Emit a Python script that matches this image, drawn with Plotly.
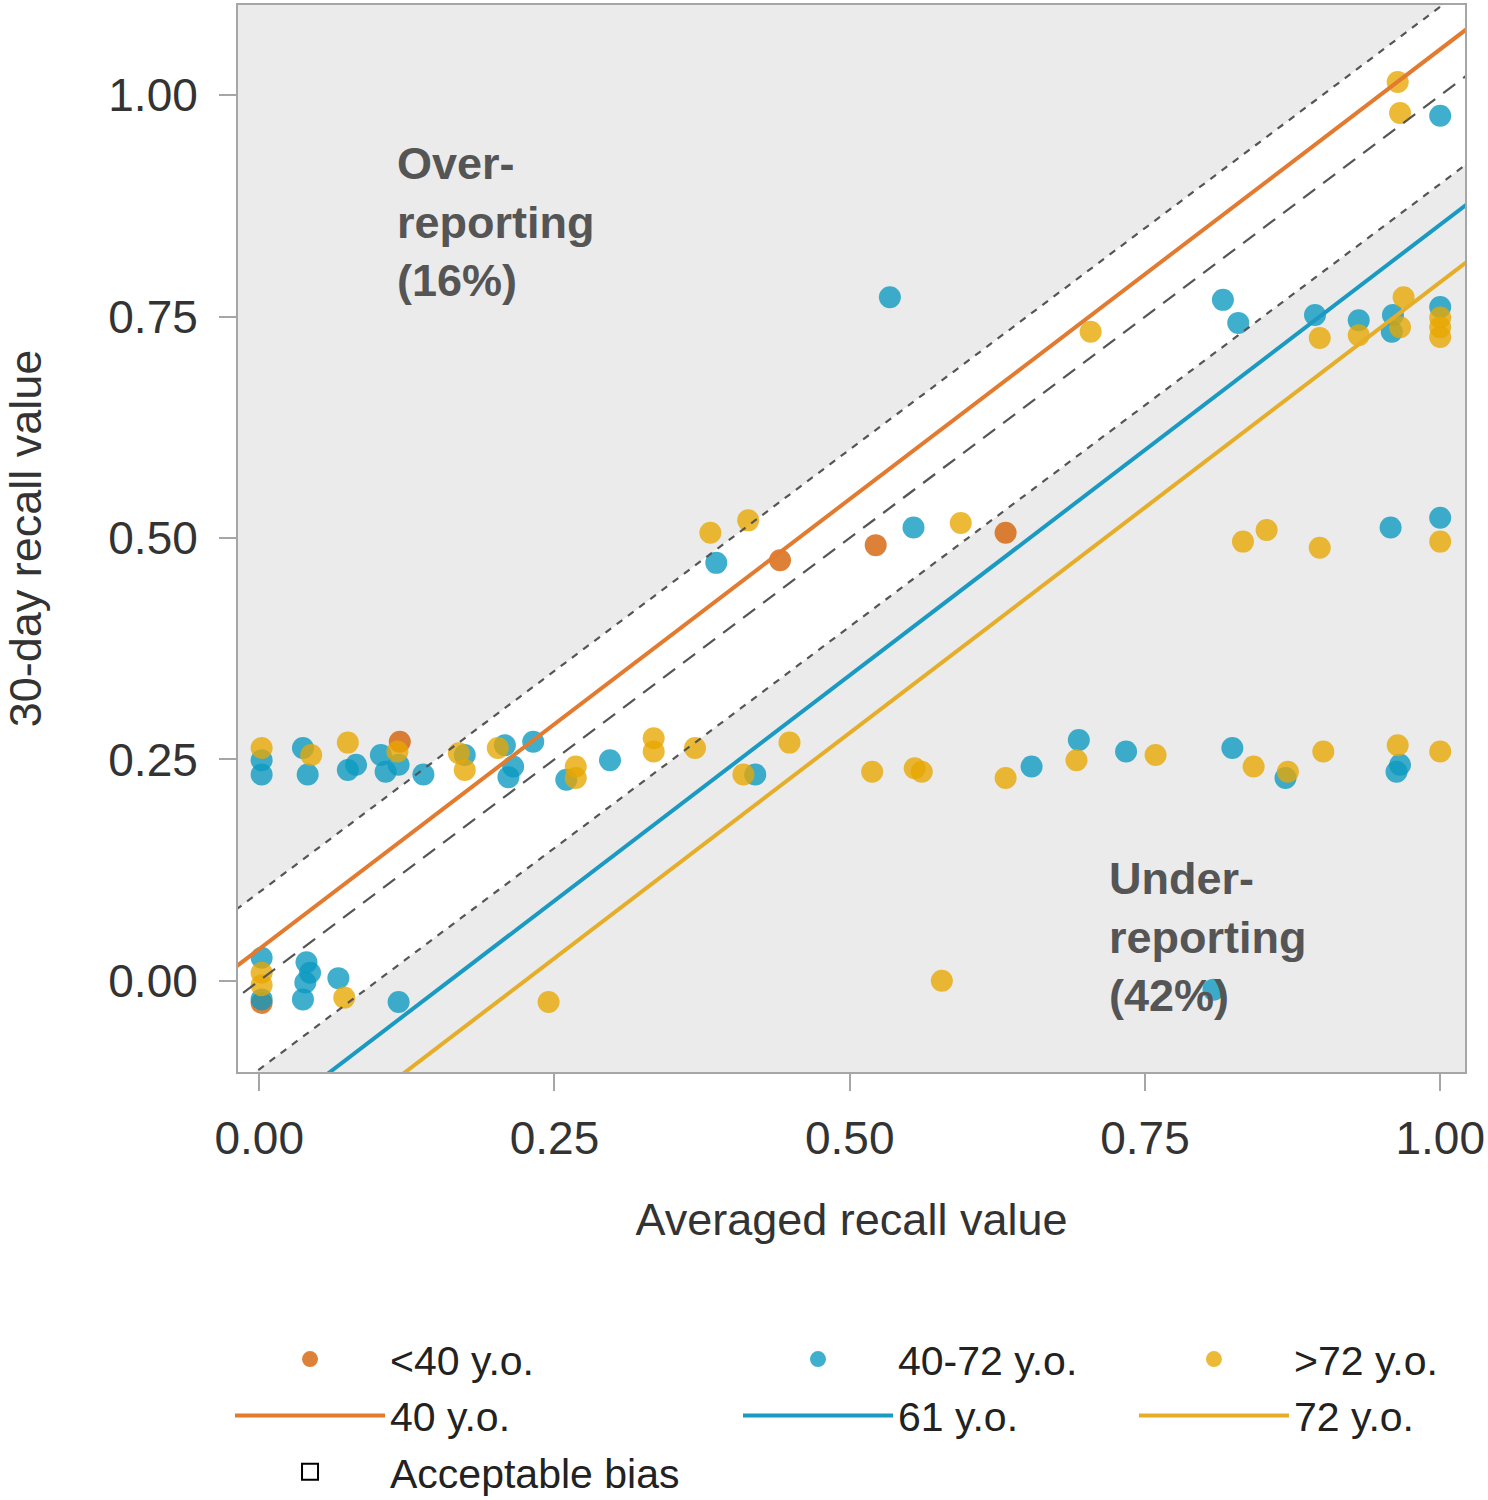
import plotly.graph_objects as go

# ---- data ----
x_lt40 = [0.119, 0.441, 0.522, 0.632, 0.002]
y_lt40 = [0.270, 0.475, 0.492, 0.506, -0.025]

x_mid = [0.002, 0.002, 0.037, 0.041, 0.075, 0.082, 0.103, 0.107, 0.118, 0.139,
         0.174, 0.208, 0.215, 0.211, 0.232, 0.260, 0.297, 0.420, 0.654, 0.694,
         0.734, 0.824, 0.869, 0.963, 0.966,
         0.002, 0.002, 0.040, 0.043, 0.039, 0.037, 0.067, 0.118,
         1.000, 0.816, 0.829, 0.894, 0.931, 0.960, 0.959, 1.000,
         0.534, 0.554, 0.387, 0.958, 1.000, 0.808]
y_mid = [0.249, 0.233, 0.263, 0.233, 0.238, 0.244, 0.255, 0.236, 0.244, 0.233,
         0.255, 0.266, 0.242, 0.230, 0.270, 0.227, 0.249, 0.233, 0.242, 0.272,
         0.259, 0.263, 0.229, 0.236, 0.244,
         0.026, -0.021, 0.021, 0.009, -0.002, -0.021, 0.003, -0.024,
         0.977, 0.769, 0.743, 0.752, 0.746, 0.752, 0.733, 0.761,
         0.772, 0.512, 0.472, 0.512, 0.523, -0.010]

x_gt72 = [0.002, 0.044, 0.075, 0.117, 0.169, 0.174, 0.202, 0.268, 0.268,
          0.334, 0.334, 0.369, 0.410, 0.449, 0.519, 0.555, 0.561, 0.632,
          0.692, 0.759, 0.842, 0.871, 0.901, 0.964, 1.000,
          0.002, 0.002, 0.072, 0.245, 0.578,
          0.964, 0.966, 0.704, 0.898, 0.931, 0.969, 0.966, 1.000, 1.000, 1.000,
          0.382, 0.414, 0.594,
          0.833, 0.853, 0.898, 1.000]
y_gt72 = [0.263, 0.255, 0.269, 0.259, 0.257, 0.238, 0.263, 0.242, 0.229,
          0.274, 0.259, 0.263, 0.233, 0.269, 0.236, 0.240, 0.236, 0.229,
          0.249, 0.255, 0.242, 0.236, 0.259, 0.266, 0.259,
          0.009, -0.005, -0.019, -0.024, 0.000,
          1.015, 0.980, 0.733, 0.726, 0.729, 0.772, 0.738, 0.749, 0.738, 0.727,
          0.506, 0.520, 0.517,
          0.496, 0.509, 0.489, 0.496]

# fitted lines: (label, intercept, slope)
fit_labels = ["40 y.o.", "61 y.o.", "72 y.o."]
fit_intercepts = [0.036, -0.164, -0.229]
fit_slopes = [1.016, 1.018, 1.018]

bias_halfwidth = 0.1
x_tick_vals = [0.0, 0.25, 0.5, 0.75, 1.0]
x_tick_text = ["0.00", "0.25", "0.50", "0.75", "1.00"]
y_tick_vals = [0.0, 0.25, 0.5, 0.75, 1.0]
y_tick_text = ["0.00", "0.25", "0.50", "0.75", "1.00"]

# ---- styles ----
pt_colors = ["#D55E00", "#0A98C0", "#E8A600"]
line_colors = ["#E27A30", "#1A9AC2", "#E6AE28"]
legends = ["legend", "legend2", "legend3"]
FONT = "Liberation Sans, Arial, sans-serif"

fig = go.Figure()

xs = [-0.2, 1.2]
# acceptable bias band (white)
fig.add_trace(go.Scatter(x=xs, y=[v - bias_halfwidth for v in xs], mode="lines",
                         line=dict(width=0, color="rgba(0,0,0,0)"), showlegend=False,
                         hoverinfo="skip"))
fig.add_trace(go.Scatter(x=xs, y=[v + bias_halfwidth for v in xs], mode="lines",
                         line=dict(width=0, color="rgba(0,0,0,0)"), fill="tonexty",
                         fillcolor="white", showlegend=False, hoverinfo="skip"))

# points
for name, xv, yv, c, lg in [("<40 y.o.", x_lt40, y_lt40, pt_colors[0], legends[0]),
                            ("40-72 y.o.", x_mid, y_mid, pt_colors[1], legends[1]),
                            (">72 y.o.", x_gt72, y_gt72, pt_colors[2], legends[2])]:
    fig.add_trace(go.Scatter(x=xv, y=yv, mode="markers", name=name, legend=lg,
                             marker=dict(color=c, size=22, opacity=0.78, line=dict(width=0))))

# band borders and identity line
for off, dash in [(bias_halfwidth, "7px,7px"), (-bias_halfwidth, "7px,7px"), (0, "15px,10px")]:
    fig.add_trace(go.Scatter(x=xs, y=[v + off for v in xs], mode="lines",
                             line=dict(color="#555555", width=2.2, dash=dash),
                             showlegend=False, hoverinfo="skip"))

# fitted lines
for lab, b0, b1, c, lg in zip(fit_labels, fit_intercepts, fit_slopes, line_colors, legends):
    fig.add_trace(go.Scatter(x=xs, y=[b0 + b1 * v for v in xs], mode="lines", name=lab,
                             legend=lg, line=dict(color=c, width=4)))

# acceptable bias legend entry
fig.add_trace(go.Scatter(x=[None], y=[None], mode="markers", name="Acceptable bias",
                         legend="legend",
                         marker=dict(symbol="square-open", color="black", size=16,
                                     line=dict(width=2))))

ann_font = dict(family=FONT, size=45, color="#555555")
fig.add_annotation(x=0.115, y=0.857, xref="x", yref="y", xanchor="left", yanchor="middle",
                   align="left", showarrow=False,
                   text="<b>Over-<br>reporting<br>(16%)</b>", font=ann_font)
fig.add_annotation(x=0.718, y=0.050, xref="x", yref="y", xanchor="left", yanchor="middle",
                   align="left", showarrow=False,
                   text="<b>Under-<br>reporting<br>(42%)</b>", font=ann_font)

axis_common = dict(showgrid=False, zeroline=False, showline=True, mirror=True,
                   linecolor="#A6A6A6", linewidth=2, ticks="outside", ticklen=17,
                   tickwidth=2, tickcolor="#A6A6A6",
                   tickfont=dict(family=FONT, size=46, color="#333333"))

fig.update_xaxes(range=[-0.018, 1.021], tickvals=x_tick_vals, ticktext=x_tick_text,
                 title=dict(text="Averaged recall value", font=dict(family=FONT, size=45, color="#333333"),
                            standoff=40),
                 ticklabelstandoff=8, **axis_common)
fig.update_yaxes(range=[-0.103, 1.102], tickvals=y_tick_vals, ticktext=y_tick_text,
                 title=dict(text="30-day recall value", font=dict(family=FONT, size=45, color="#333333"),
                            standoff=55),
                 ticklabelstandoff=12, **axis_common)

leg_common = dict(orientation="v", xanchor="left", y=-0.238, yanchor="top",
                  font=dict(family=FONT, size=41, color="#222222"),
                  itemwidth=150, traceorder="normal", itemsizing="trace",
                  bgcolor="rgba(0,0,0,0)", borderwidth=0)

fig.update_layout(
    width=1488, height=1500,
    margin=dict(l=238, r=23, t=5, b=428, autoexpand=False),
    plot_bgcolor="#EBEBEB", paper_bgcolor="white",
    font=dict(family=FONT, color="#333333"),
    legend=dict(x=-0.0065, **leg_common),
    legend2=dict(x=0.4075, **leg_common),
    legend3=dict(x=0.7302, **leg_common),
)

fig.write_html("out.html", config={"displayModeBar": False},
               post_script="document.body.style.margin='0px';")
